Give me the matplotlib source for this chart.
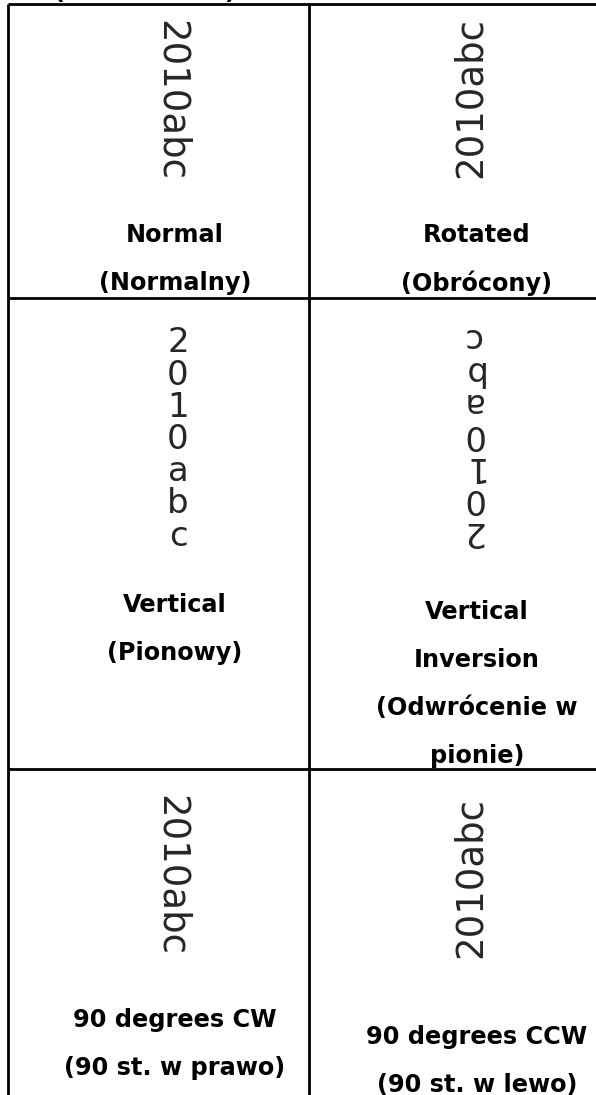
import matplotlib
matplotlib.use("Agg")
import matplotlib.pyplot as plt

# ---- data ----
sample_text = "2010abc"
modes = ["normal", "rotated", "vertical", "vertical_inv", "cw", "ccw"]
labels = [
    ["Normal", "(Normalny)"],
    ["Rotated", "(Obrócony)"],
    ["Vertical", "(Pionowy)"],
    ["Vertical", "Inversion", "(Odwrócenie w", "pionie)"],
    ["90 degrees CW", "(90 st. w prawo)"],
    ["90 degrees CCW", "(90 st. w lewo)"],
]
top_cut_label = "(Odwrócenie)"

# ---- layout (pixels) ----
W, H = 596, 1095
col_edges = [8, 309]
row_edges = [4, 298, 769]
label_x = [175, 477, 175, 477, 175, 477]
label_y0 = [235, 235, 605, 612, 1020, 1037]
label_step = 48
sample_x = [171, 470, 178, 472, 171, 470]
sample_y = [100, 98, 436.5, 437.5, 875, 878]

PX = 0.72  # px -> pt at 100 dpi
label_fs = 24 * PX
sample_fs = 37 * PX
stack_fs = 34 * PX
stack_pitch = 32.2
sample_color = "#262626"

fig = plt.figure(figsize=(W / 100, H / 100), dpi=100)
ax = fig.add_axes([0, 0, 1, 1])
ax.set_xlim(0, W)
ax.set_ylim(H, 0)
ax.axis("off")

lw = 2.8 * PX
# grid lines
for y in row_edges:
    ax.plot([col_edges[0], W], [y, y], color="black", lw=lw, solid_capstyle="butt")
for x in col_edges:
    ax.plot([x, x], [row_edges[0], H], color="black", lw=lw, solid_capstyle="butt")

# partially visible label above the table (only its bracket tails show)
ax.text(145, -0.6, top_cut_label, ha="center", va="baseline", fontsize=label_fs,
        fontweight="bold", family="DejaVu Sans", color="black")

for i, mode in enumerate(modes):
    sx, sy = sample_x[i], sample_y[i]
    if mode in ("normal", "cw"):
        ax.text(sx, sy, sample_text, rotation=-90, ha="center", va="center",
                fontsize=sample_fs, family="DejaVu Sans", color=sample_color)
    elif mode in ("rotated", "ccw"):
        ax.text(sx, sy, sample_text, rotation=90, ha="center", va="center",
                fontsize=sample_fs, family="DejaVu Sans", color=sample_color)
    else:
        n = len(sample_text)
        for k, ch in enumerate(sample_text):
            base = sy + (k - (n - 1) / 2) * stack_pitch + 12.5
            if mode == "vertical":
                ax.text(sx, base, ch, ha="center", va="baseline",
                        fontsize=stack_fs, family="DejaVu Sans", color=sample_color)
            else:
                yb = 2 * sy - base
                ax.text(sx, yb, ch, ha="center", va="baseline", rotation=180,
                        rotation_mode="anchor", fontsize=stack_fs,
                        family="DejaVu Sans", color=sample_color)
    for j, line in enumerate(labels[i]):
        ax.text(label_x[i], label_y0[i] + j * label_step, line, ha="center",
                va="center", fontsize=label_fs, fontweight="bold",
                family="DejaVu Sans", color="black")

fig.savefig("out.png", dpi=100)
